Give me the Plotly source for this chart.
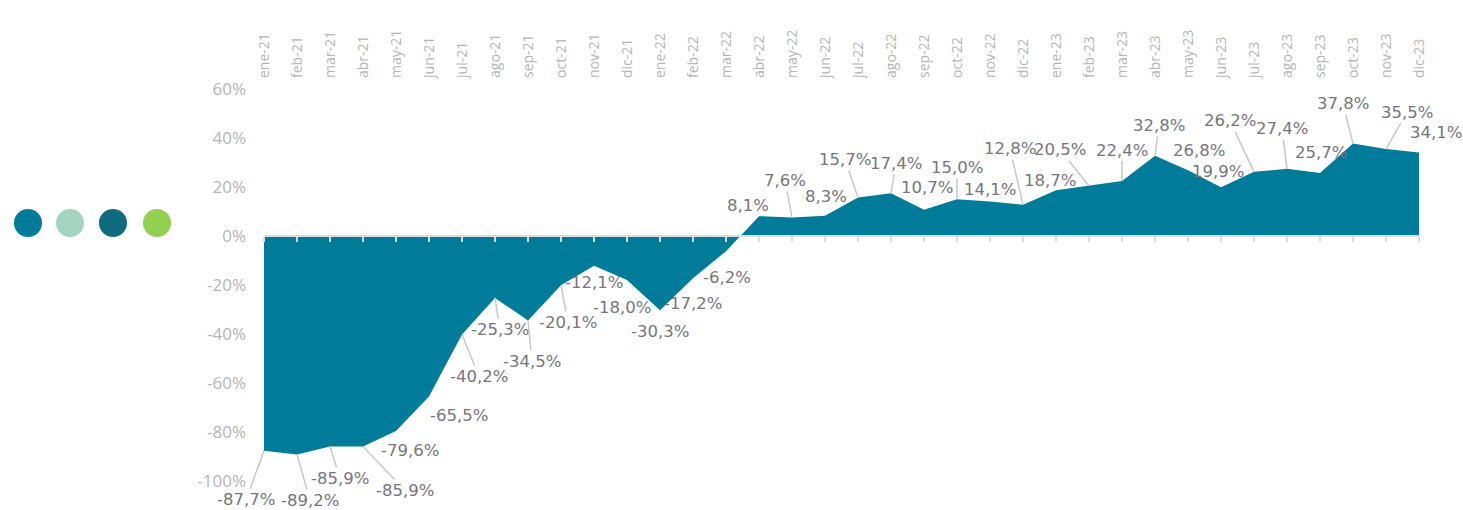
import plotly.graph_objects as go

months = ["ene-21","feb-21","mar-21","abr-21","may-21","jun-21","jul-21","ago-21","sep-21","oct-21","nov-21","dic-21",
          "ene-22","feb-22","mar-22","abr-22","may-22","jun-22","jul-22","ago-22","sep-22","oct-22","nov-22","dic-22",
          "ene-23","feb-23","mar-23","abr-23","may-23","jun-23","jul-23","ago-23","sep-23","oct-23","nov-23","dic-23"]
values = [-87.7,-89.2,-85.9,-85.9,-79.6,-65.5,-40.2,-25.3,-34.5,-20.1,-12.1,-18.0,
          -30.3,-17.2,-6.2,8.1,7.6,8.3,15.7,17.4,10.7,15.0,14.1,12.8,
          18.7,20.5,22.4,32.8,26.8,19.9,26.2,27.4,25.7,37.8,35.5,34.1]
y_ticks = [-100,-80,-60,-40,-20,0,20,40,60]
y_tick_text = ["-100%","-80%","-60%","-40%","-20%","0%","20%","40%","60%"]
legend_colors = ["#007B99", "#A3D5BE", "#0E6C7E", "#92D050"]

# label offsets (pixels, dx, dy screen) and whether a leader line is drawn
label_pos = [(-18,49,1),(13,46,1),(10,32,1),(42,44,1),(14,19,0),(30,19,0),(17,42,1),(5,32,1),(4,41,1),(7,37,1),
             (0,17,0),(-5,27,0),(0,21,0),(0,25,0),(1,26,0),(-11,-11,0),(-7,-37,1),(1,-19,0),(-13,-38,1),(5,-30,1),
             (3,-22,0),(0,-32,1),(0,-12,0),(-13,-56,1),(-6,-10,0),(-29,-36,1),(0,-31,1),(4,-30,1),(11,-20,0),(-3,-16,0),
             (-24,-51,1),(-5,-40,1),(1,-21,0),(-10,-40,1),(21,-37,1),(17,-20,0)]

LABEL_FONT = "DejaVu Sans"
TICK_FONT = "Open Sans"

fig = go.Figure()
fig.add_trace(go.Scatter(
    x=months, y=values, mode="lines", fill="tozeroy",
    line=dict(color="#007B99", width=0), fillcolor="#007B99",
    hoverinfo="x+y", showlegend=False,
))

def fmt(v):
    s = f"{v:.1f}".replace(".", ",")
    return s + "%"

annotations = []
for m, v, (dx, dy, lead) in zip(months, values, label_pos):
    annotations.append(dict(
        x=m, y=v, xref="x", yref="y", text=fmt(v),
        showarrow=True, ax=dx, ay=dy, arrowhead=0, arrowwidth=1.5, standoff=0,
        arrowcolor="#c8c8c8" if lead else "rgba(0,0,0,0)",
        font=dict(family=LABEL_FONT, size=16.5, color="#77757c"),
    ))
fig.update_layout(annotations=annotations)

shapes = []
for i, c in enumerate(legend_colors):
    cx = [28, 70, 113, 157][i]
    xp = (cx - 264) / 1155
    yp = (481 - 223) / 392
    shapes.append(dict(type="circle", xref="paper", yref="paper", xsizemode="pixel", ysizemode="pixel",
                       xanchor=xp, yanchor=yp, x0=-14, x1=14, y0=-14, y1=14,
                       fillcolor=c, line=dict(width=0), layer="above"))
fig.update_layout(shapes=shapes)

fig.update_layout(
    width=1463, height=510,
    margin=dict(l=264, r=44, t=89, b=29, autoexpand=False),
    paper_bgcolor="white", plot_bgcolor="white",
    showlegend=False,
    font=dict(family=TICK_FONT),
    xaxis=dict(
        type="category", categoryorder="array", categoryarray=months,
        range=[0, 35], side="top", tickangle=-90, automargin=False,
        showgrid=False, zeroline=False, showline=False, ticks="",
        tickfont=dict(family=TICK_FONT, size=14, color="#b5b5b5"),
        ticklabelstandoff=10,
    ),
    xaxis2=dict(
        overlaying="x", anchor="free", position=0.625, range=[0, 35], automargin=False,
        tickmode="array", tickvals=list(range(36)), showticklabels=False,
        ticks="outside", ticklen=5, tickwidth=1.5, tickcolor="#dcdcdc",
        showline=True, linecolor="#dcdcdc", linewidth=2,
        showgrid=False, zeroline=False, layer="above traces",
    ),
    yaxis=dict(
        range=[-100, 60], tickmode="array", tickvals=y_ticks, ticktext=y_tick_text,
        automargin=False,
        showgrid=False, zeroline=False, showline=False, ticks="",
        tickfont=dict(family=TICK_FONT, size=17, color="#b5b5b5"),
        ticklabelstandoff=17,
    ),
)
# invisible helper trace to register xaxis2
fig.add_trace(go.Scatter(x=[0], y=[0], xaxis="x2", mode="markers", marker=dict(opacity=0), hoverinfo="skip", showlegend=False))

fig.write_html("out.html", config={"displayModeBar": False},
               post_script="document.body.style.margin='0';document.body.style.overflow='hidden';")
